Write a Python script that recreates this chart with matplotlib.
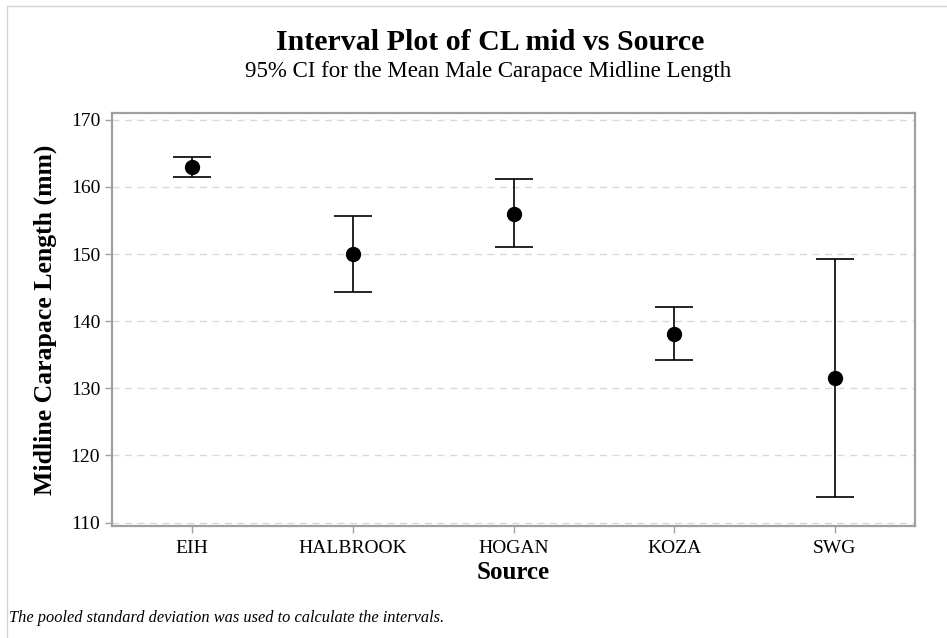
#!/usr/bin/env python3
"""Interval plot of CL mid vs Source (95% CI for the mean)."""
import matplotlib
matplotlib.use("Agg")
import matplotlib.pyplot as plt
from matplotlib.patches import Rectangle

sources = ["EIH", "HALBROOK", "HOGAN", "KOZA", "SWG"]
means = [162.9, 150.0, 156.0, 138.1, 131.5]
ci_low = [161.4, 144.3, 151.0, 134.2, 113.8]
ci_high = [164.4, 155.7, 161.1, 142.1, 149.3]
yticks = [110, 120, 130, 140, 150, 160, 170]

SERIF = ["Liberation Serif", "DejaVu Serif"]
plt.rcParams["font.family"] = SERIF

fig = plt.figure(figsize=(9.47, 6.38), dpi=100)
ax = fig.add_axes([112 / 947, 1 - 526 / 638, 803 / 947, 413 / 638])

# light border around the whole graph window
fig.patches.append(Rectangle((7 / 947, -0.1), 1.2, 0.1 + (638 - 6) / 638,
                             transform=fig.transFigure, fill=False,
                             edgecolor="#d4d4d4", linewidth=1.0))

x = list(range(len(sources)))
lower = [m - lo for m, lo in zip(means, ci_low)]
upper = [hi - m for m, hi in zip(means, ci_high)]
ax.errorbar(x, means, yerr=[lower, upper], fmt="o", color="black",
            markersize=10, elinewidth=1.2, capsize=14, capthick=1.2, zorder=3)

ax.set_xlim(-0.5, 4.5)
ax.set_ylim(109.5, 171.0)
ax.set_yticks(yticks)
ax.set_xticks(x)
ax.set_xticklabels(sources)
ax.grid(axis="y", linestyle=(0, (5, 4)), color="#d9d9d9", linewidth=1.0)
ax.set_axisbelow(True)

for sp in ax.spines.values():
    sp.set_color("#a0a0a0")
    sp.set_linewidth(1.6)
ax.tick_params(axis="both", colors="#a0a0a0", labelcolor="black",
               labelsize=14, length=5, width=1)
ax.tick_params(axis="x", pad=5)

ax.set_xlabel("Source", fontsize=18, fontweight="bold", labelpad=3)
ax.set_ylabel("Midline Carapace Length (mm)", fontsize=18.5, fontweight="bold",
              labelpad=10)

fig.text(490 / 947, 1 - 43 / 638, "Interval Plot of CL mid vs Source",
         ha="center", va="center", fontsize=21.5, fontweight="bold")
fig.text(488 / 947, 1 - 72 / 638,
         "95% CI for the Mean Male Carapace Midline Length",
         ha="center", va="center", fontsize=16.5)
fig.text(9 / 947, 1 - 618 / 638,
         "The pooled standard deviation was used to calculate the intervals.",
         ha="left", va="center", fontsize=11.8, style="italic")

fig.savefig("out.png", dpi=100)
